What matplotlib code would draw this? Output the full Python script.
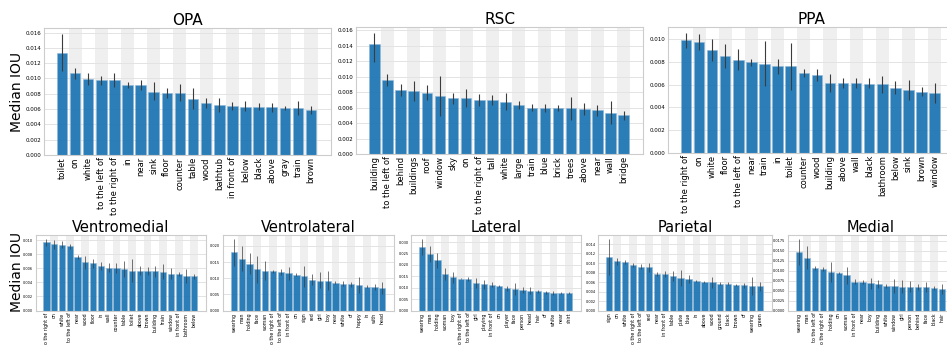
import numpy as np
import matplotlib
matplotlib.use('Agg')
import matplotlib.pyplot as plt

# ---- data (median IOU with lower / upper error) ----
opa_labels = ['toilet', 'on', 'white', 'to the left of', 'to the right of', 'in', 'near', 'sink', 'floor',
              'counter', 'table', 'wood', 'bathtub', 'in front of', 'below', 'black', 'above', 'gray',
              'train', 'brown']
opa_med = [0.01338, 0.01066, 0.00996, 0.00978, 0.00974, 0.00917, 0.00912, 0.00829, 0.00811, 0.00811,
           0.00737, 0.00675, 0.00658, 0.00645, 0.00632, 0.00632, 0.00623, 0.00618, 0.00614, 0.00592]
opa_lo = [0.01096, 0.00987, 0.0091, 0.0091, 0.0089, 0.0087, 0.00855, 0.00715, 0.0074, 0.0070,
          0.0060, 0.00614, 0.00557, 0.00592, 0.0057, 0.00588, 0.00557, 0.00583, 0.0052, 0.0054]
opa_hi = [0.0158, 0.0114, 0.01075, 0.0103, 0.01066, 0.0096, 0.0098, 0.0095, 0.00877, 0.00925,
          0.0088, 0.00746, 0.0075, 0.00693, 0.0070, 0.00675, 0.00684, 0.00645, 0.0071, 0.00645]

rsc_labels = ['building', 'to the left of', 'behind', 'buildings', 'roof', 'window', 'sky', 'on',
              'to the right of', 'tall', 'white', 'large', 'train', 'blue', 'brick', 'trees', 'above',
              'near', 'wall', 'bridge']
rsc_med = [0.01427, 0.00957, 0.00832, 0.00815, 0.00793, 0.0075, 0.0072, 0.0072, 0.00703, 0.00698,
           0.00677, 0.00634, 0.00599, 0.00595, 0.00595, 0.0059, 0.00582, 0.00565, 0.0053, 0.0050]
rsc_lo = [0.01185, 0.00875, 0.00746, 0.00681, 0.00694, 0.00487, 0.00651, 0.00603, 0.00625, 0.00634,
          0.00573, 0.00582, 0.0056, 0.00539, 0.00556, 0.00444, 0.00504, 0.00496, 0.00384, 0.00435]
rsc_hi = [0.01565, 0.01039, 0.0091, 0.00948, 0.00897, 0.01013, 0.00789, 0.0084, 0.0078, 0.00763,
          0.00789, 0.00685, 0.00642, 0.0065, 0.00634, 0.00737, 0.0066, 0.00634, 0.00685, 0.0056]

ppa_labels = ['to the right of', 'on', 'white', 'floor', 'to the left of', 'near', 'train', 'in', 'toilet',
              'counter', 'wood', 'building', 'above', 'wall', 'black', 'bathroom', 'below', 'sink',
              'brown', 'window']
ppa_med = [0.00988, 0.00977, 0.00904, 0.00851, 0.00816, 0.00795, 0.00784, 0.00763, 0.00763, 0.00702,
           0.00684, 0.00617, 0.00614, 0.00611, 0.00608, 0.00602, 0.00573, 0.00556, 0.00538, 0.00523]
ppa_lo = [0.00921, 0.00906, 0.00804, 0.00743, 0.00725, 0.00766, 0.00585, 0.00696, 0.00556, 0.00664,
          0.00632, 0.00538, 0.0057, 0.00567, 0.00567, 0.00529, 0.0052, 0.00468, 0.00497, 0.00439]
ppa_hi = [0.01053, 0.01047, 0.0100, 0.0096, 0.00912, 0.00825, 0.00982, 0.00825, 0.00965, 0.00737,
          0.00737, 0.00696, 0.00658, 0.00658, 0.00655, 0.00675, 0.00629, 0.00643, 0.00579, 0.00614]

vm_labels = ['to the right of', 'on', 'white', 'to the left of', 'near', 'wood', 'floor', 'in', 'wall',
             'counter', 'table', 'toilet', 'above', 'brown', 'building', 'train', 'window', 'in front of',
             'bathroom', 'below']
vm_med = [0.00971, 0.00943, 0.00938, 0.00914, 0.00761, 0.00684, 0.0067, 0.00636, 0.00612, 0.00603,
          0.00593, 0.00569, 0.00565, 0.0056, 0.0056, 0.00555, 0.00526, 0.00522, 0.00493, 0.00488]
vm_lo = [0.00914, 0.00876, 0.00885, 0.0088, 0.00737, 0.00598, 0.00603, 0.00579, 0.0055, 0.00531,
         0.00483, 0.00411, 0.00502, 0.00502, 0.00483, 0.00445, 0.0045, 0.00493, 0.00388, 0.00455]
vm_hi = [0.01024, 0.0101, 0.0099, 0.00947, 0.00785, 0.0077, 0.00737, 0.00694, 0.00675, 0.00675,
         0.00699, 0.00732, 0.00627, 0.00617, 0.00636, 0.00665, 0.00603, 0.0055, 0.00598, 0.00522]

vl_labels = ['wearing', 'man', 'holding', 'face', 'woman', 'to the right of', 'to the left of', 'in front of',
             'on', 'sign', 'red', 'girl', 'boy', 'near', 'white', 'of', 'happy', 'in', 'with', 'head']
vl_med = [0.0180, 0.01605, 0.01449, 0.01273, 0.01232, 0.01211, 0.0119, 0.01149, 0.01108, 0.01056,
          0.00952, 0.00921, 0.00921, 0.00849, 0.00828, 0.00807, 0.00787, 0.00735, 0.00725, 0.00704]
vl_lo = [0.01366, 0.01211, 0.01128, 0.00849, 0.00952, 0.01149, 0.01087, 0.00952, 0.01056, 0.00714,
         0.00797, 0.00694, 0.00642, 0.00807, 0.00745, 0.00735, 0.00538, 0.00694, 0.00631, 0.00518]
vl_hi = [0.02226, 0.02008, 0.0178, 0.01698, 0.01522, 0.01263, 0.01294, 0.01335, 0.0117, 0.01387,
         0.01128, 0.0118, 0.01211, 0.009, 0.009, 0.0087, 0.01035, 0.00776, 0.00818, 0.0088]

lat_labels = ['wearing', 'man', 'holding', 'woman', 'boy', 'to the right of', 'to the left of', 'girl',
              'playing', 'in front of', 'on', 'player', 'face', 'person', 'head', 'hair', 'of', 'white',
              'near', 'shirt']
lat_med = [0.02796, 0.02485, 0.02219, 0.01598, 0.0145, 0.01391, 0.01361, 0.01183, 0.01154, 0.01139,
           0.01065, 0.00976, 0.00947, 0.00902, 0.00873, 0.00843, 0.00799, 0.00784, 0.00769, 0.00769]
lat_lo = [0.02426, 0.02115, 0.01879, 0.01331, 0.01213, 0.01361, 0.01272, 0.01006, 0.00962, 0.01036,
          0.01021, 0.00873, 0.00666, 0.00769, 0.0071, 0.00769, 0.0074, 0.00695, 0.0074, 0.00725]
lat_hi = [0.0315, 0.0284, 0.02515, 0.01849, 0.01686, 0.01435, 0.0145, 0.01405, 0.01331, 0.01257,
          0.0111, 0.01065, 0.01213, 0.01036, 0.01021, 0.00902, 0.00843, 0.00873, 0.00814, 0.00814]

par_labels = ['sign', 'on', 'white', 'to the right of', 'to the left of', 'red', 'near', 'in front of',
              'table', 'plate', 'blue', 'in', 'above', 'wood', 'ground', 'black', 'brown', 'of',
              'wearing', 'green']
par_med = [0.01133, 0.01035, 0.01021, 0.00958, 0.00923, 0.00909, 0.00769, 0.00762, 0.00734, 0.00685,
           0.00657, 0.00629, 0.00608, 0.00594, 0.00566, 0.00566, 0.00538, 0.00531, 0.00524, 0.0051]
par_lo = [0.00741, 0.00951, 0.00979, 0.00923, 0.00867, 0.00811, 0.00727, 0.00699, 0.00629, 0.00517,
          0.00573, 0.00608, 0.0058, 0.00483, 0.00538, 0.00538, 0.0051, 0.00476, 0.00336, 0.0042]
par_hi = [0.01517, 0.01098, 0.01063, 0.00993, 0.00979, 0.01007, 0.00811, 0.00825, 0.00839, 0.00846,
          0.00741, 0.0065, 0.00629, 0.00706, 0.00594, 0.00594, 0.00566, 0.00587, 0.00706, 0.00601]

med_labels = ['wearing', 'man', 'to the left of', 'to the right of', 'holding', 'on', 'woman',
              'in front of', 'near', 'boy', 'building', 'white', 'window', 'girl', 'person', 'behind',
              'face', 'black', 'hair']
med_med = [0.01464, 0.01324, 0.01061, 0.01053, 0.00962, 0.00946, 0.00888, 0.00724, 0.00715, 0.00683,
           0.00666, 0.00625, 0.00609, 0.006, 0.006, 0.00592, 0.00584, 0.00576, 0.00543]
med_lo = [0.01151, 0.01036, 0.01012, 0.01003, 0.00715, 0.00913, 0.00674, 0.00658, 0.00674, 0.00543,
          0.00559, 0.00576, 0.00428, 0.00428, 0.00469, 0.00526, 0.0046, 0.00526, 0.00419]
med_hi = [0.01809, 0.01612, 0.0111, 0.01102, 0.01209, 0.00979, 0.01102, 0.00789, 0.00757, 0.00814,
          0.00773, 0.00674, 0.00789, 0.00773, 0.00732, 0.00658, 0.00707, 0.00625, 0.00674]

W, H = 947, 345
BAR_COLOR = '#1f77b4'


def add_axes_px(fig, left, right, top, bottom):
  return fig.add_axes([left / W, 1 - bottom / H, (right - left) / W, (bottom - top) / H])


def draw_panel(ax, title, labels, med, lo, hi, xfs, yfs, tfs, tpad, elw):
  med = np.array(med)
  lo = np.array(lo)
  hi = np.array(hi)
  x = np.arange(len(labels))
  # alternating grey bands behind every other bar
  for i in x:
    if i % 2 == 1:
      ax.axvspan(i - 0.5, i + 0.5, color='#efefef', zorder=0, lw=0)
  ax.bar(x, med, width=0.8, color=BAR_COLOR, alpha=0.95, edgecolor='#8fb6d8', linewidth=0.4,
         yerr=[med - lo, hi - med], error_kw=dict(ecolor='#3c3c3c', elinewidth=elw, capsize=0), zorder=2)
  ax.set_xticks(x)
  ax.set_xticklabels(labels, rotation=90, fontsize=xfs)
  ax.tick_params(axis='y', labelsize=yfs, length=0, pad=2)
  ax.tick_params(axis='x', length=0, pad=1.5)
  ax.yaxis.grid(True, color='#e3e3e3', linewidth=0.7)
  ax.set_axisbelow(True)
  for sp in ax.spines.values():
    sp.set_color('#cccccc')
    sp.set_linewidth(0.8)
  ax.set_title(title, fontsize=tfs, pad=tpad)


fig = plt.figure(figsize=(W / 100, H / 100), dpi=100)

top = [('OPA', opa_labels, opa_med, opa_lo, opa_hi, (43.7, 330.6, 28, 155)),
       ('RSC', rsc_labels, rsc_med, rsc_lo, rsc_hi, (356, 643.3, 27, 154)),
       ('PPA', ppa_labels, ppa_med, ppa_lo, ppa_hi, (667.7, 954.3, 27, 153))]
for title, lab, m, l, h, box in top:
  ax = add_axes_px(fig, *box)
  draw_panel(ax, title, lab, m, l, h, xfs=6, yfs=4, tfs=11, tpad=1.5, elw=0.8)

bottom = [('Ventromedial', vm_labels, vm_med, vm_lo, vm_hi, (35.6, 205.9, 235, 310.5)),
          ('Ventrolateral', vl_labels, vl_med, vl_lo, vl_hi, (223, 394, 235, 310.5)),
          ('Lateral', lat_labels, lat_med, lat_lo, lat_hi, (411.2, 580.5, 235, 310.5)),
          ('Parietal', par_labels, par_med, par_lo, par_hi, (598.2, 771.8, 235, 310.5)),
          ('Medial', med_labels, med_med, med_lo, med_hi, (788.3, 952.7, 235, 310.5))]
for title, lab, m, l, h, box in bottom:
  ax = add_axes_px(fig, *box)
  draw_panel(ax, title, lab, m, l, h, xfs=3.4, yfs=2.5, tfs=10.5, tpad=2, elw=0.5)

fig.text(17 / W, 1 - 91.5 / H, 'Median IOU', rotation=90, fontsize=10, ha='center', va='center')
fig.text(17 / W, 1 - 272 / H, 'Median IOU', rotation=90, fontsize=10, ha='center', va='center')

fig.savefig('out.png', dpi=100)
